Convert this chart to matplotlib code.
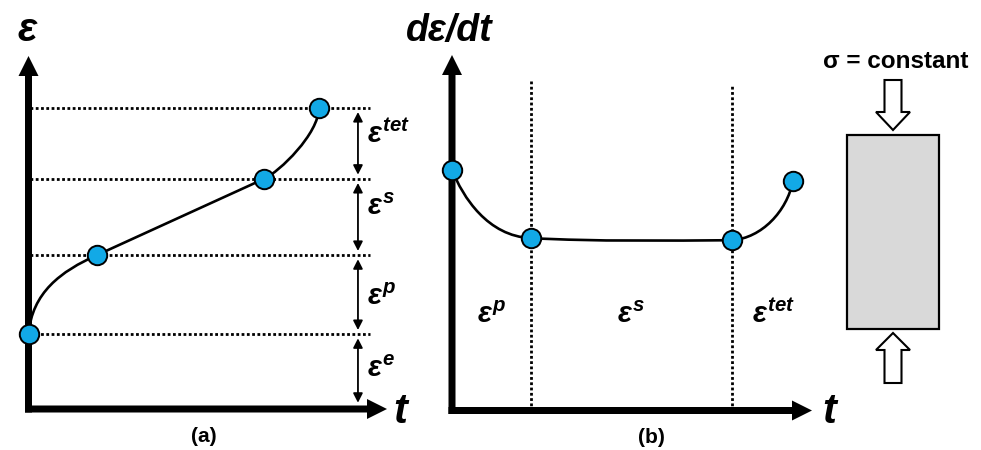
import matplotlib
matplotlib.use('Agg')
import matplotlib.pyplot as plt
from matplotlib.path import Path
from matplotlib.patches import PathPatch, FancyArrow, Rectangle, Polygon
from matplotlib import rcParams

rcParams['font.family'] = 'Liberation Sans'
rcParams['font.weight'] = 'bold'
rcParams['mathtext.fontset'] = 'custom'
rcParams['mathtext.it'] = 'Liberation Sans:italic:bold'
rcParams['mathtext.rm'] = 'Liberation Sans:bold'
rcParams['mathtext.bf'] = 'Liberation Sans:bold'

# (a) creep strain vs time, stage boundaries
t_a = [0.0, 1.91, 6.57, 8.10]
strain = [2.12, 4.36, 6.52, 8.53]
strain_handles = [[(0.10, 3.30), (0.90, 3.90)],
                  [(3.50, 5.10), (5.00, 5.79)],
                  [(7.00, 6.72), (8.10, 7.80)]]
strain_stages = ['e', 'p', 's', 'tet']
strain_label_y = [0.91, 2.95, 5.50, 7.54]

# (b) creep rate vs time
t_b = [0.0, 2.19, 7.78, 9.47]
rate = [6.77, 4.85, 4.79, 6.45]
rate_handles = [[(0.30, 6.00), (1.00, 4.90)],
                [(4.00, 4.75), (6.00, 4.78)],
                [(8.60, 4.85), (9.30, 5.60)]]
rate_stages = ['p', 's', 'tet']
rate_label_x = [0.69, 4.58, 8.33]
divider_top = [9.30, 9.16]

dot_color = '#12a9e6'
dotted = (0, (1, 0.9))


def bezier(xs, ys, handles):
    verts = [(xs[0], ys[0])]
    codes = [Path.MOVETO]
    for i, (h1, h2) in enumerate(handles):
        verts += [h1, h2, (xs[i + 1], ys[i + 1])]
        codes += [Path.CURVE4] * 3
    return PathPatch(Path(verts, codes), fc='none', ec='k', lw=1.9, zorder=3)


def axis_arrows(ax, w, h):
    # thick L-shaped axes with solid heads, sizes given in pixels
    ax.add_patch(FancyArrow(0, -3.5 / h, 0, 1 + 3.5 / h, width=7 / w,
                            head_width=20 / w, head_length=20 / h,
                            length_includes_head=True, transform=ax.transAxes,
                            fc='k', ec='none', clip_on=False, zorder=5))
    ax.add_patch(FancyArrow(-3.5 / w, 0, 1 + 3.5 / w, 0, width=7 / h,
                            head_width=20 / h, head_length=20 / w,
                            length_includes_head=True, transform=ax.transAxes,
                            fc='k', ec='none', clip_on=False, zorder=5))


fig = plt.figure(figsize=(9.81, 4.5), dpi=100)

# ---- panel (a)
ax = fig.add_axes([28.5 / 981, 41 / 450, 358.5 / 981, 353 / 450])
ax.set_xlim(0, 10)
ax.set_ylim(0, 10)
ax.axis('off')
axis_arrows(ax, 358.5, 353)

for lvl in strain:
    ax.plot([0.05, 9.53], [lvl, lvl], color='k', lw=2.0, ls=dotted, zorder=2)
ax.add_patch(bezier(t_a, strain, strain_handles))
ax.plot(t_a, strain, 'o', ms=14, mfc=dot_color, mec='k', mew=1.4, zorder=6, clip_on=False)

levels = [0.0] + strain
for i in range(len(levels) - 1):
    ax.annotate('', xy=(9.19, levels[i + 1]), xytext=(9.19, levels[i]),
                arrowprops=dict(arrowstyle='<|-|>,head_length=0.55,head_width=0.28',
                                lw=1.3, color='k', shrinkA=4.5 if i == 0 else 3, shrinkB=3))
for s, y in zip(strain_stages, strain_label_y):
    ax.text(9.44, y, r'$ε^{%s}$' % s, fontsize=21, ha='left', va='baseline')

ax.text(-0.04, 10.75, 'ε', fontsize=29, fontstyle='italic', fontweight='bold',
        ha='center', va='center')
ax.text(10.36, -0.08, 't', fontsize=30, fontstyle='italic', fontweight='bold',
        ha='center', va='center')
ax.text(4.9, -0.79, '(a)', fontsize=15, ha='center', va='center')

# ---- panel (b)
bx = fig.add_axes([452 / 981, 39.5 / 450, 360 / 981, 355.5 / 450])
bx.set_xlim(0, 10)
bx.set_ylim(0, 10)
bx.axis('off')
axis_arrows(bx, 360, 355.5)

for x, top in zip(t_b[1:3], divider_top):
    bx.plot([x, x], [0, top], color='k', lw=2.0, ls=dotted, zorder=2)
bx.add_patch(bezier(t_b, rate, rate_handles))
bx.plot(t_b, rate, 'o', ms=14, mfc=dot_color, mec='k', mew=1.4, zorder=6, clip_on=False)

for s, x in zip(rate_stages, rate_label_x):
    bx.text(x, 2.46, r'$ε^{%s}$' % s, fontsize=21, ha='left', va='baseline')

bx.text(-0.08, 10.67, 'dε/dt', fontsize=27, fontstyle='italic', fontweight='bold',
        ha='center', va='center')
bx.text(10.47, -0.04, 't', fontsize=30, fontstyle='italic', fontweight='bold',
        ha='center', va='center')
bx.text(5.53, -0.75, '(b)', fontsize=15, ha='center', va='center')

# ---- loaded specimen sketch
cx = fig.add_axes([0, 0, 1, 1], zorder=-1)
cx.set_xlim(0, 981)
cx.set_ylim(450, 0)
cx.axis('off')


def hollow_arrow(x, y_tail, y_tip, shaft_w=17, head_w=34, head_len=18):
    sgn = 1 if y_tip > y_tail else -1
    base = y_tip - sgn * head_len
    verts = [(x - shaft_w / 2, y_tail), (x + shaft_w / 2, y_tail),
             (x + shaft_w / 2, base), (x + head_w / 2, base), (x, y_tip),
             (x - head_w / 2, base), (x - shaft_w / 2, base)]
    return Polygon(verts, closed=True, fc='white', ec='k', lw=1.5)


cx.add_patch(Rectangle((847, 135), 92, 194, fc='#d9d9d9', ec='k', lw=1.6))
cx.add_patch(hollow_arrow(893, 80, 130))
cx.add_patch(hollow_arrow(893, 383, 333, head_len=17))
cx.text(896, 62, 'σ = constant', fontsize=17.5, ha='center', va='center')

fig.savefig('out.png', dpi=100)
